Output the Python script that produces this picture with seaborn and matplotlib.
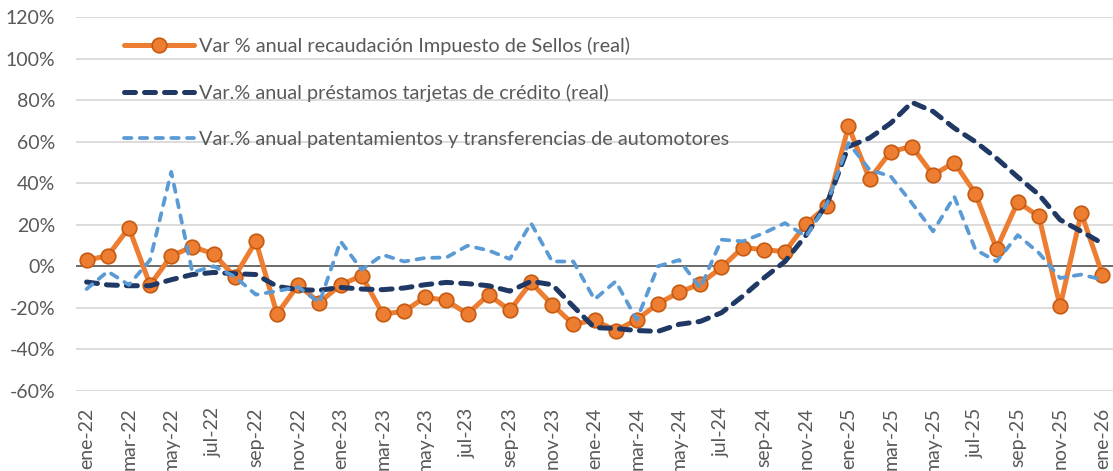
import matplotlib
matplotlib.use("Agg")
import matplotlib.pyplot as plt
import seaborn as sns
import numpy as np
import pandas as pd

months = ["ene", "feb", "mar", "abr", "may", "jun", "jul", "ago", "sep", "oct", "nov", "dic"]
dates = [f"{m}-{y}" for y in ["22", "23", "24", "25"] for m in months] + ["ene-26"]

sellos = [3, 5, 18.5, -9, 5, 9.4, 6, -5, 12, -23, -9, -17.5,
          -9, -4.6, -23, -21.8, -14.9, -16.5, -23, -13.7, -21.3, -7.8, -18.5, -28,
          -26, -31, -25.8, -18, -12.6, -8.4, -0.6, 9, 8, 7, 20.5, 29,
          67.4, 42, 55.3, 57.7, 44, 50, 35, 8.4, 31, 24, -19.4, 25.6,
          -4]
tarjetas = [-7.6, -9, -9.4, -9.4, -6.5, -4, -3, -3.6, -4, -9.7, -11.3, -11.6,
            -10.2, -11, -11.3, -10.5, -8.9, -7.8, -8.4, -9.4, -12, -7.3, -8.9, -19.4,
            -29.6, -30, -31, -31.4, -28, -26.6, -22.4, -14.5, -5.7, 2.3, 15, 30.6,
            57.7, 61.8, 69, 79, 74.6, 66.6, 60, 52, 43, 34.5, 22.4, 16.8,
            11]
autos = [-11, -2.5, -9, 3, 45.5, -3, 0, -5, -13.7, -12, -10, -17.6,
         12, -1.7, 5.5, 2.3, 4, 4.2, 9.9, 7.6, 3.5, 20.8, 2.3, 2.3,
         -16, -7.3, -25.8, 0, 3, -10.5, 12.8, 12, 16, 20.8, 14.4, 30.4,
         59.4, 46.5, 43.3, 30.4, 16.8, 33.6, 8, 2.3, 15, 6.4, -5.7, -4,
         -6.5]

labels = ["Var % anual recaudación Impuesto de Sellos (real)",
          "Var.% anual préstamos tarjetas de crédito (real)",
          "Var.% anual patentamientos y transferencias de automotores"]

yticks = list(range(-60, 121, 20))

df = pd.DataFrame({"pos": np.arange(len(dates)), "fecha": dates,
                   "sellos": sellos, "tarjetas": tarjetas, "autos": autos})

sns.set_theme(style="white")
plt.rcParams["font.family"] = ["Lato", "DejaVu Sans"]
TXT = "#595959"

W, H = 1113, 471
fig = plt.figure(figsize=(W / 100, H / 100), dpi=100)
ax = fig.add_axes([76 / W, 1 - 390.7 / H, (W - 76) / W, (390.7 - 17.3) / H])

for y in yticks:
    if y != 0:
        ax.axhline(y, color="#d9d9d9", lw=1.3, zorder=0)
ax.axhline(0, color="#6a6a6a", lw=1.4, zorder=1)

sns.lineplot(data=df, x="pos", y="sellos", ax=ax, color="#ED7D31", lw=3.6,
             marker="o", markersize=10.5, markeredgecolor="#C55A11", mew=1.2,
             markerfacecolor="#ED7D31", label=labels[0], zorder=3, clip_on=False)
sns.lineplot(data=df, x="pos", y="tarjetas", ax=ax, color="#1F3864", lw=3.6,
             linestyle=(0, (2.2, 1.8)), dash_capstyle="round",
             label=labels[1], zorder=4)
sns.lineplot(data=df, x="pos", y="autos", ax=ax, color="#5B9BD5", lw=2.7,
             linestyle=(0, (2.0, 2.2)), dash_capstyle="round",
             label=labels[2], zorder=5)

ax.set_xlim(-0.5, len(dates) - 0.5)
ax.set_ylim(-60, 120)
ax.set_yticks(yticks)
ax.set_yticklabels([f"{v}%" for v in yticks])
ax.set_xticks(df["pos"][::2])
ax.set_xticklabels(df["fecha"][::2], rotation=90)
ax.tick_params(axis="y", length=0, pad=15, labelsize=14, labelcolor=TXT)
ax.tick_params(axis="x", length=0, pad=12, labelsize=14, labelcolor=TXT)
ax.set_xlabel("")
ax.set_ylabel("")
for s in ax.spines.values():
    s.set_visible(False)

leg = ax.legend(loc="upper left", bbox_to_anchor=(124 / W, 1 - 37 / H),
                bbox_transform=fig.transFigure, frameon=False, fontsize=14.3,
                handlelength=3.5, handletextpad=0.3, labelspacing=1.45,
                borderpad=0, borderaxespad=0)
for t in leg.get_texts():
    t.set_color(TXT)

fig.savefig("out.png", dpi=100)
